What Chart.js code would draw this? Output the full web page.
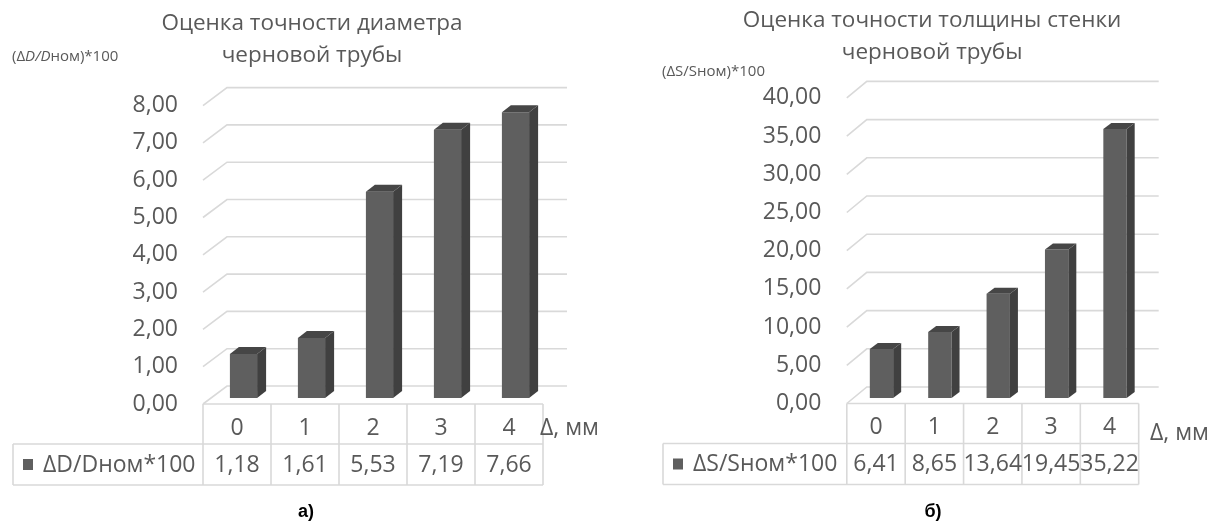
<!DOCTYPE html>
<html>
<head>
<meta charset="utf-8">
<script src="https://cdn.jsdelivr.net/npm/chart.js@4.4.1/dist/chart.umd.min.js"></script>
<style>
  html, body { margin: 0; padding: 0; background: #fff; }
  #wrap { position: relative; width: 1212px; height: 527px; overflow: hidden; }
  #wrap canvas { position: absolute; top: 0; }
  #chartD { left: 0; }
  #chartS { left: 606px; }
</style>
</head>
<body>
<div id="wrap">
  <canvas id="chartD" width="606" height="527"></canvas>
  <canvas id="chartS" width="606" height="527"></canvas>
</div>
<script>
// data
const categories = ['0', '1', '2', '3', '4'];
const diameterValues = [1.18, 1.61, 5.53, 7.19, 7.66];
const wallValues = [6.41, 8.65, 13.64, 19.45, 35.22];
const diameterTicks = [0, 1, 2, 3, 4, 5, 6, 7, 8];
const wallTicks = [0, 5, 10, 15, 20, 25, 30, 35, 40];

const TEXT = '#595959';
const GRID = '#d9d9d9';
const BAR_FRONT = '#5f5f5f';
const BAR_SIDE = '#404040';
const BAR_TOP = '#464646';
const FONT = "'Open Sans', sans-serif";

Chart.defaults.font.family = FONT;
Chart.defaults.color = TEXT;

const fmt = v => v.toFixed(2).replace('.', ',');

function poly(ctx, pts, fill) {
  ctx.beginPath();
  ctx.moveTo(pts[0][0], pts[0][1]);
  for (let i = 1; i < pts.length; i++) ctx.lineTo(pts[i][0], pts[i][1]);
  ctx.closePath();
  ctx.fillStyle = fill;
  ctx.fill();
}

// fake excel 3d look: back wall grid, bar side/top faces, data table under the floor
const excel3d = {
  id: 'excel3d',
  beforeDatasetsDraw(chart, args, o) {
    const { ctx, chartArea: a, scales: { y } } = chart;
    ctx.save();
    ctx.strokeStyle = GRID;
    ctx.lineWidth = 1.6;
    y.ticks.forEach(t => {
      const py = y.getPixelForValue(t.value);
      ctx.beginPath();
      ctx.moveTo(a.left + o.front[0], py + o.front[1]);
      ctx.lineTo(a.left + o.back[0], py + o.back[1]);
      ctx.lineTo(a.right + o.back[0], py + o.back[1]);
      ctx.stroke();
    });
    ctx.restore();
  },
  afterDatasetsDraw(chart, args, o) {
    const ctx = chart.ctx;
    const [dx, dy] = o.depth;
    ctx.save();
    chart.getDatasetMeta(0).data.forEach(bar => {
      const { x, y, base, width } = bar.getProps(['x', 'y', 'base', 'width'], true);
      const l = x - width / 2, r = x + width / 2;
      poly(ctx, [[r, y], [r + dx, y - dy], [r + dx, base - dy], [r, base]], BAR_SIDE);
      poly(ctx, [[l, y], [l + dx, y - dy], [r + dx, y - dy], [r, y]], BAR_TOP);
    });
    ctx.restore();
  },
  afterDraw(chart, args, o) {
    const { ctx, chartArea: a, scales: { x, y } } = chart;
    const n = chart.data.labels.length;
    const band = (a.right - a.left) / n;
    const x0 = a.left + o.front[0], x1 = a.right + o.front[0];
    const top = y.getPixelForValue(0) + o.front[1];
    const mid = top + 40, bot = top + 81;
    ctx.save();

    // table grid
    ctx.strokeStyle = GRID;
    ctx.lineWidth = 1.6;
    ctx.beginPath();
    ctx.moveTo(x0, top); ctx.lineTo(x1, top);
    ctx.moveTo(o.legendLeft, mid); ctx.lineTo(x1, mid);
    ctx.moveTo(o.legendLeft, bot); ctx.lineTo(x1, bot);
    ctx.moveTo(o.legendLeft, mid); ctx.lineTo(o.legendLeft, bot);
    for (let i = 0; i <= n; i++) {
      const cx = x0 + i * band;
      ctx.moveTo(cx, top); ctx.lineTo(cx, bot);
    }
    ctx.stroke();

    // table text
    ctx.fillStyle = TEXT;
    ctx.font = '23px ' + FONT;
    ctx.textAlign = 'center';
    ctx.textBaseline = 'middle';
    const vals = chart.data.datasets[0].data;
    chart.data.labels.forEach((lab, i) => {
      const cx = x.getPixelForValue(i) + o.front[0];
      ctx.fillText(lab, cx, top + 24);
      ctx.fillText(fmt(vals[i]), cx, top + 61);
    });
    ctx.textAlign = 'left';
    ctx.fillText('Δ, мм', o.unitX, o.unitY);

    // legend key
    ctx.fillStyle = BAR_FRONT;
    ctx.fillRect(o.legendLeft + 10, top + 55, 10, 11);
    ctx.fillStyle = TEXT;
    ctx.fillText(o.legendText, o.legendLeft + 30, top + 61);

    // y axis caption, some parts italic
    let cx = o.axisLabelX;
    o.axisLabel.forEach(([txt, it]) => {
      ctx.font = (it ? 'italic ' : '') + '15px ' + FONT;
      ctx.fillText(txt, cx, o.axisLabelY);
      cx += ctx.measureText(txt).width;
    });

    // figure caption
    ctx.fillStyle = '#000';
    ctx.font = "bold 18px 'Liberation Sans', Arial, sans-serif";
    ctx.textAlign = 'center';
    ctx.fillText(o.caption, o.captionX, 512);
    ctx.restore();
  }
};

function makeChart(id, values, ticks, title, geo) {
  return new Chart(document.getElementById(id), {
    type: 'bar',
    data: {
      labels: categories,
      datasets: [{ data: values, backgroundColor: BAR_FRONT, borderWidth: 0, barPercentage: 0.4, categoryPercentage: 1 }]
    },
    options: {
      responsive: false,
      animation: false,
      devicePixelRatio: 1,
      layout: { padding: { left: geo.padLeft, right: geo.padRight, top: 0, bottom: 129 } },
      scales: {
        x: { display: false },
        y: {
          min: ticks[0],
          max: ticks[ticks.length - 1],
          afterBuildTicks: s => { s.ticks = ticks.map(v => ({ value: v })); },
          afterFit: s => { s.width = geo.axisWidth; },
          grid: { display: false },
          border: { display: false },
          ticks: { callback: v => fmt(v), font: { size: 23 }, color: TEXT, padding: geo.tickPad, labelOffset: geo.front[1] }
        }
      },
      plugins: {
        legend: { display: false },
        tooltip: { enabled: false },
        title: {
          display: true, text: title, color: TEXT,
          font: { size: 22.5, weight: 'normal', lineHeight: 1.44 },
          padding: { top: geo.titleTop, bottom: geo.titleBottom }
        },
        excel3d: geo
      }
    },
    plugins: [excel3d]
  });
}

makeChart('chartD', diameterValues, diameterTicks,
  ['Оценка точности диаметра', 'черновой трубы'], {
    padLeft: 74.5, padRight: 56.5, axisWidth: 135, tickPad: 23.5,
    titleTop: 7, titleBottom: 27.8,
    front: [-6.5, 6], back: [17.5, -12], depth: [9, 7],
    legendLeft: 13, legendText: 'ΔD/Dном*100',
    unitX: 540, unitY: 428,
    axisLabel: [['(Δ', false], ['D/D', true], ['ном)*100', false]], axisLabelX: 12, axisLabelY: 57,
    caption: 'а)', captionX: 306
  });

makeChart('chartS', wallValues, wallTicks,
  ['Оценка точности толщины стенки', 'черновой трубы'], {
    padLeft: 114, padRight: 67.8, axisWidth: 132.3, tickPad: 23,
    titleTop: 4, titleBottom: 23.6,
    front: [-5.5, 5.5], back: [14.5, -11], depth: [8, 6],
    legendLeft: 57, legendText: 'ΔS/Sном*100',
    unitX: 544, unitY: 433,
    axisLabel: [['(ΔS/Sном)*100', false]], axisLabelX: 56, axisLabelY: 72,
    caption: 'б)', captionX: 327
  });
</script>
</body>
</html>
